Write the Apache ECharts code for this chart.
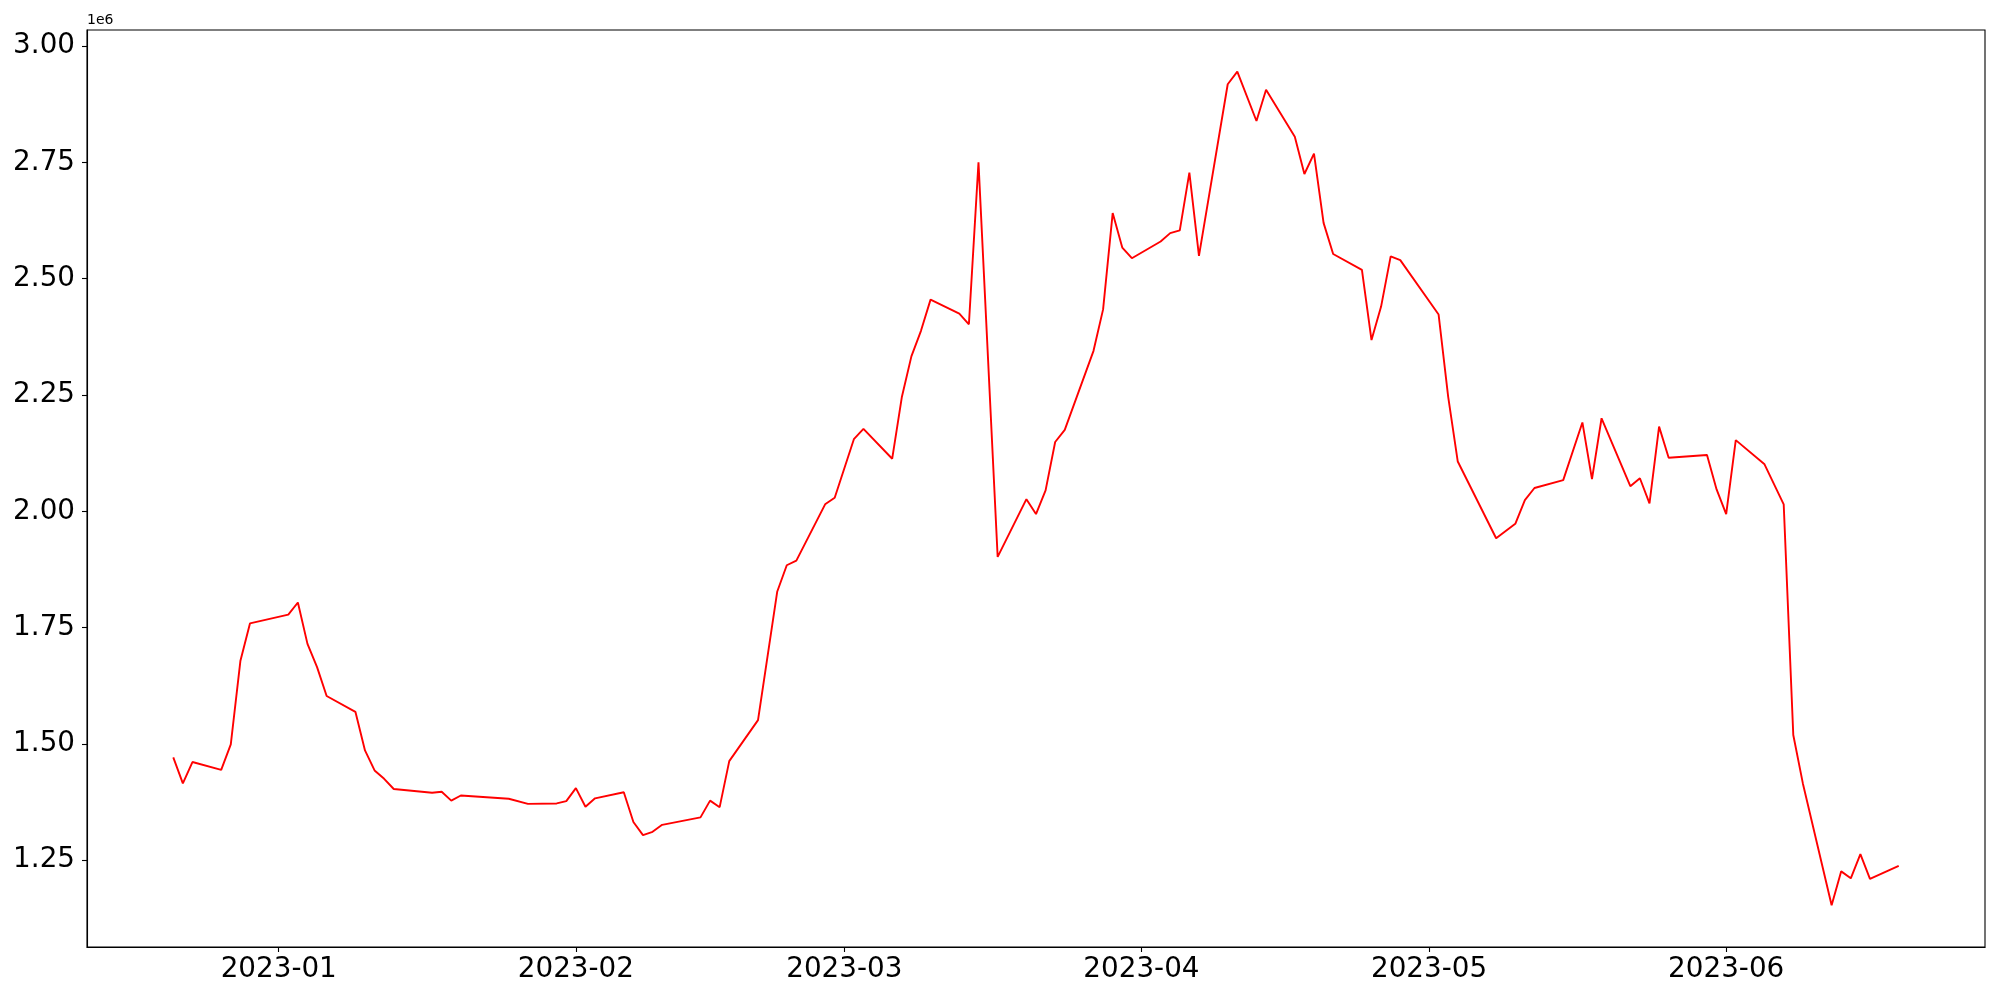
<!DOCTYPE html>
<html>
<head>
<meta charset="utf-8">
<script src="https://cdn.jsdelivr.net/npm/echarts@6/dist/echarts.min.js"></script>
<style>
html,body{margin:0;padding:0;background:#fff;}
#chart{width:2000px;height:1000px;}
</style>
</head>
<body>
<div id="chart"></div>
<script>
// ---- data ----
const dates = [
 '2022-12-21','2022-12-22','2022-12-23','2022-12-26','2022-12-27','2022-12-28','2022-12-29',
 '2023-01-02','2023-01-03','2023-01-04','2023-01-05','2023-01-06','2023-01-09','2023-01-10',
 '2023-01-11','2023-01-12','2023-01-13','2023-01-17','2023-01-18','2023-01-19','2023-01-20',
 '2023-01-25','2023-01-27','2023-01-30','2023-01-31','2023-02-01','2023-02-02','2023-02-03',
 '2023-02-06','2023-02-07','2023-02-08','2023-02-09','2023-02-10','2023-02-14','2023-02-15',
 '2023-02-16','2023-02-17','2023-02-20','2023-02-22','2023-02-23','2023-02-24','2023-02-27',
 '2023-02-28','2023-03-02','2023-03-03','2023-03-06','2023-03-07','2023-03-08','2023-03-09',
 '2023-03-10','2023-03-13','2023-03-14','2023-03-15','2023-03-17','2023-03-20','2023-03-21',
 '2023-03-22','2023-03-23','2023-03-24','2023-03-27','2023-03-28','2023-03-29','2023-03-30',
 '2023-03-31','2023-04-03','2023-04-04','2023-04-05','2023-04-06','2023-04-07','2023-04-10',
 '2023-04-11','2023-04-13','2023-04-14','2023-04-17','2023-04-18','2023-04-19','2023-04-20',
 '2023-04-21','2023-04-24','2023-04-25','2023-04-26','2023-04-27','2023-04-28','2023-05-02',
 '2023-05-03','2023-05-04','2023-05-08','2023-05-10','2023-05-11','2023-05-12','2023-05-15',
 '2023-05-17','2023-05-18','2023-05-19','2023-05-22','2023-05-23','2023-05-24','2023-05-25',
 '2023-05-26','2023-05-30','2023-05-31','2023-06-01','2023-06-02','2023-06-05','2023-06-07',
 '2023-06-08','2023-06-09','2023-06-12','2023-06-13','2023-06-14','2023-06-15','2023-06-16',
 '2023-06-19'
];
const values = [
 1471000,1415000,1461000,1444000,1499000,1678000,1759000,
 1778000,1804000,1715000,1665000,1603000,1569000,1486000,
 1443000,1425000,1403000,1395000,1397000,1378000,1389000,
 1382000,1371000,1372000,1377000,1405000,1365000,1383000,
 1396000,1332000,1304000,1311000,1326000,1342000,1378000,
 1364000,1463000,1551000,1827000,1884000,1894000,2015000,
 2029000,2155000,2177000,2113000,2245000,2333000,2388000,
 2455000,2425000,2402000,2750000,1902000,2026000,1994000,
 2045000,2149000,2175000,2345000,2434000,2641000,2567000,
 2544000,2580000,2598000,2604000,2728000,2549000,2918000,
 2945000,2839000,2906000,2805000,2725000,2769000,2620000,
 2553000,2519000,2368000,2440000,2548000,2540000,2423000,
 2246000,2107000,1942000,1973000,2024000,2050000,2067000,
 2191000,2069000,2200000,2054000,2071000,2017000,2182000,
 2115000,2121000,2047000,1994000,2153000,2101000,2015000,
 1519000,1415000,1153000,1226000,1211000,1263000,1210000,
 1238000
];
const xTickLabels = ['2023-01-01','2023-02-01','2023-03-01','2023-04-01','2023-05-01','2023-06-01'];
const yTickValues = [1250000,1500000,1750000,2000000,2250000,2500000,2750000,3000000];

// ---- build ----
function ts(s){ const p = s.split('-').map(Number); return Date.UTC(p[0], p[1]-1, p[2]); }
const times = dates.map(ts);
const tMin = times[0], tMax = times[times.length-1];
const tPad = (tMax - tMin) * 0.05;
const vMin = Math.min(...values), vMax = Math.max(...values);
const vPad = (vMax - vMin) * 0.05;
const xTicks = xTickLabels.map(ts);
function fmtDate(v){
  const d = new Date(v);
  const m = d.getUTCMonth()+1;
  return d.getUTCFullYear() + '-' + (m<10?'0':'') + m;
}
const font = 'DejaVu Sans';
const chart = echarts.init(document.getElementById('chart'), null, {renderer:'canvas'});
chart.setOption({
  animation:false,
  backgroundColor:'#ffffff',
  grid:{left:87,right:15,top:30,bottom:53,show:true,borderColor:'#000',borderWidth:1.1,backgroundColor:'transparent'},
  graphic:[{type:'text',left:87,top:13,style:{text:'1e6',font:'14px "DejaVu Sans"',fill:'#000'}}],
  xAxis:{
    type:'value',
    min:tMin - tPad, max:tMax + tPad,
    axisLine:{show:true,lineStyle:{color:'#000',width:1.1}},
    axisTick:{show:true,customValues:xTicks,length:5,inside:false,lineStyle:{color:'#000',width:1.1}},
    axisLabel:{show:true,customValues:xTicks,formatter:fmtDate,fontFamily:font,fontSize:27.8,color:'#000',margin:9},
    splitLine:{show:false}
  },
  yAxis:{
    type:'value',
    min:vMin - vPad, max:vMax + vPad,
    axisLine:{show:true,lineStyle:{color:'#000',width:1.1}},
    axisTick:{show:true,customValues:yTickValues,length:5,inside:false,lineStyle:{color:'#000',width:1.1}},
    axisLabel:{show:true,customValues:yTickValues,formatter:v=>(v/1e6).toFixed(2),fontFamily:font,fontSize:27.8,color:'#000',margin:12},
    splitLine:{show:false}
  },
  series:[{
    type:'line',
    data:times.map((t,i)=>[t,values[i]]),
    symbol:'none',
    lineStyle:{color:'#ff0000',width:1.9},
    itemStyle:{color:'#ff0000'}
  }]
});
</script>
</body>
</html>
